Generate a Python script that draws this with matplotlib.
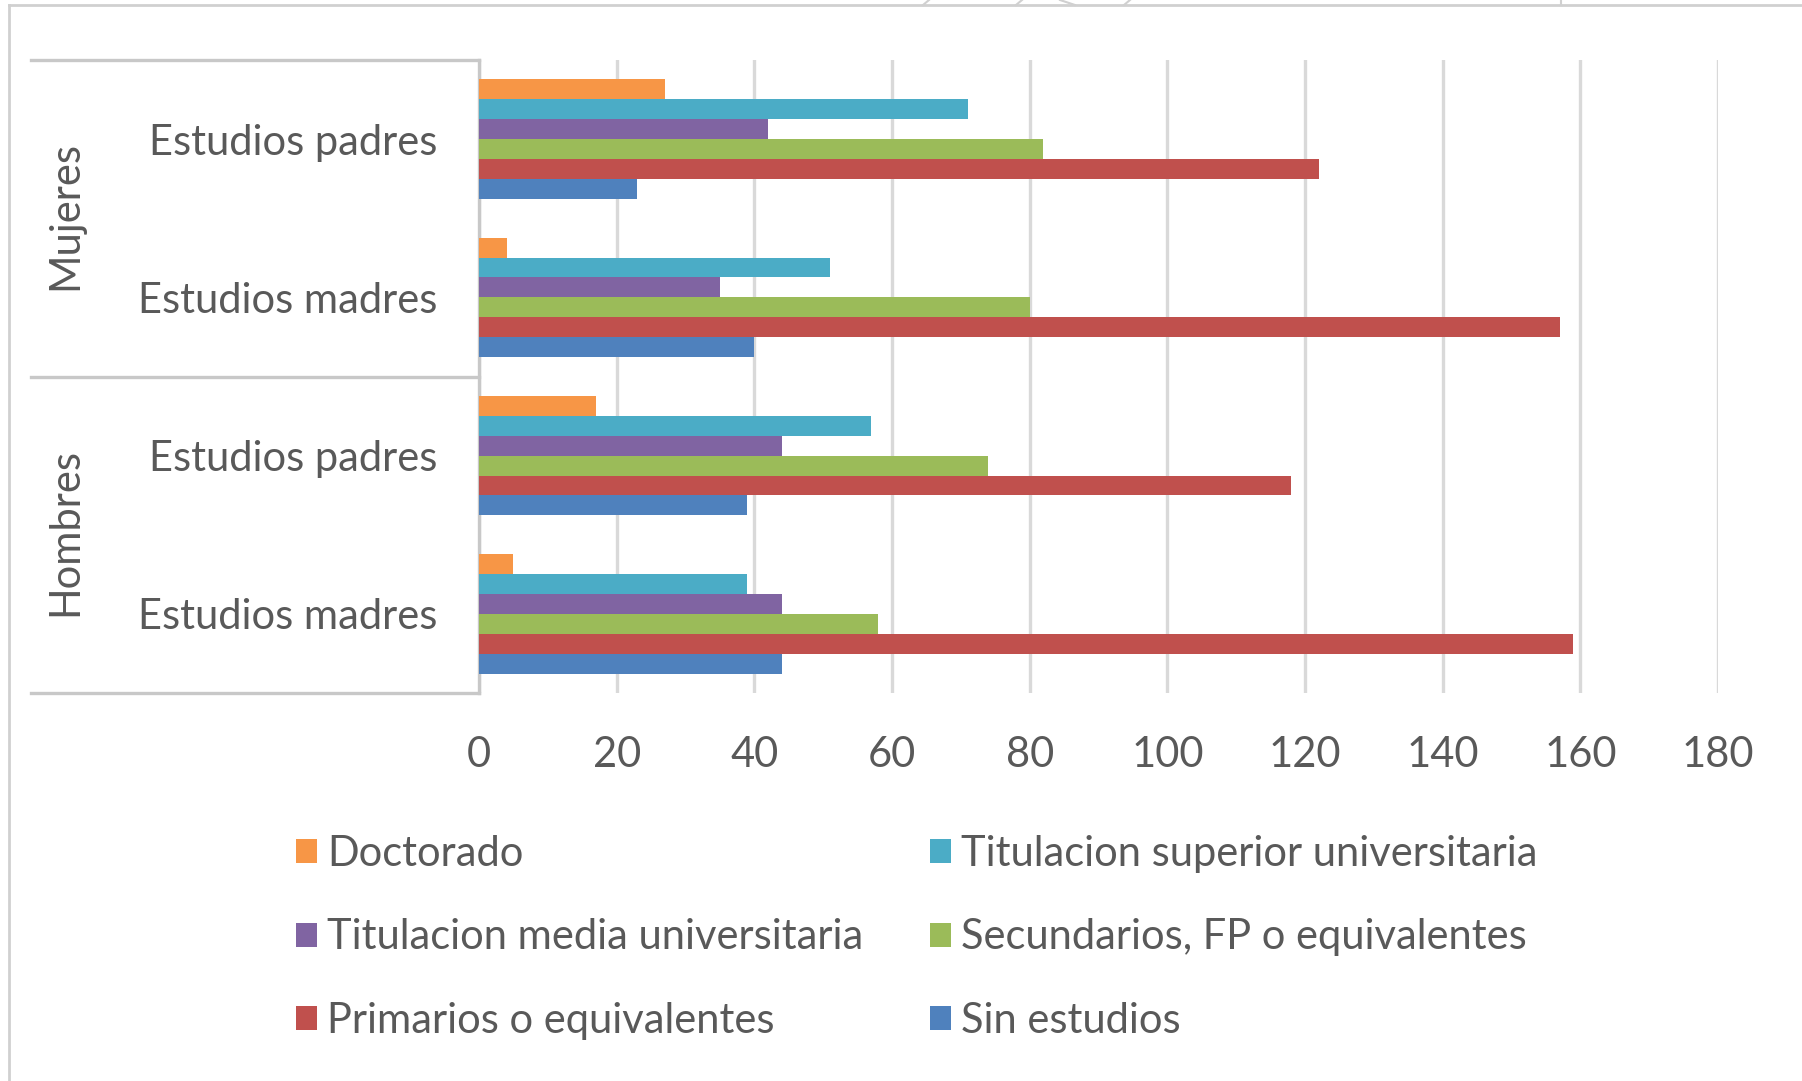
import matplotlib
matplotlib.use("Agg")
import matplotlib.pyplot as plt
import numpy as np
from matplotlib.patches import Patch
from matplotlib.lines import Line2D

plt.rcParams['font.family'] = ['Lato', 'DejaVu Sans']

# Categories, top to bottom
categories = ["Estudios padres", "Estudios madres", "Estudios padres", "Estudios madres"]
groups = ["Mujeres", "Hombres"]

# Series, drawn top to bottom within each category
series_names = [
    "Doctorado",
    "Titulacion superior universitaria",
    "Titulacion media universitaria",
    "Secundarios, FP o equivalentes",
    "Primarios o equivalentes",
    "Sin estudios",
]
doctorado = [27, 4, 17, 5]
tit_superior = [71, 51, 57, 39]
tit_media = [42, 35, 44, 44]
secundarios = [82, 80, 74, 58]
primarios = [122, 157, 118, 159]
sin_estudios = [23, 40, 39, 44]
series_values = [doctorado, tit_superior, tit_media, secundarios, primarios, sin_estudios]
colors = ["#F79646", "#4BACC6", "#8064A2", "#9BBB59", "#C0504D", "#4F81BD"]

x_ticks = list(range(0, 181, 20))

W, H = 1802, 1081
fig = plt.figure(figsize=(W / 100, H / 100), dpi=100)
ax = fig.add_axes([479 / W, 1 - 693 / H, (1718 - 479) / W, (693 - 60) / H])

text_color = "#595959"
grid_color = "#D9D9D9"
box_color = "#C8C8C8"
fs = 30

n_series = len(series_values)
bar_h = 0.755 / n_series
y = np.arange(len(categories))
for i, (vals, col, name) in enumerate(zip(series_values, colors, series_names)):
    offs = (i - (n_series - 1) / 2) * bar_h
    ax.barh(y + offs, vals, height=bar_h, color=col, label=name, zorder=3)

ax.set_xlim(0, 180)
ax.set_ylim(len(categories) - 0.5, -0.5)
ax.set_xticks(x_ticks)
ax.set_xticklabels([str(t) for t in x_ticks], fontsize=fs, color=text_color)
ax.set_yticks(y)
ax.set_yticklabels(categories, fontsize=fs, color=text_color)
ax.tick_params(axis="x", length=0, pad=31)
ax.tick_params(axis="y", length=0, pad=30)
ax.xaxis.grid(True, color=grid_color, linewidth=2.4, zorder=0)
for s in ["top", "right", "bottom"]:
    ax.spines[s].set_visible(False)
ax.spines["left"].set_color(box_color)
ax.spines["left"].set_linewidth(2.4)

# Group label box on the left
box_left = (31 - 479) / (1718 - 479)
for yy in [-0.5, 1.5, 3.5]:
    ax.add_line(Line2D([box_left, 0], [yy, yy], transform=ax.get_yaxis_transform(),
                       color=box_color, linewidth=2.4, clip_on=False))
fig.text(65 / W, 1 - 215 / H, groups[0], rotation=90, ha="center", va="center",
         fontsize=fs, color=text_color)
fig.text(65 / W, 1 - 532 / H, groups[1], rotation=90, ha="center", va="center",
         fontsize=fs, color=text_color)

# Chart outer border (top and left) with small strokes from the frame above
border = "#D0D0D0"
def px_line(xs, ys, lw=2):
    fig.add_artist(Line2D([v / W for v in xs], [1 - v / H for v in ys],
                          transform=fig.transFigure, color=border, linewidth=lw))

px_line([9, 9], [5, H])
px_line([9, W], [5, 5])
px_line([923, 929], [5, 0], 1.5)
px_line([1016, 1022], [5, 0], 1.5)
px_line([1060, 1075], [0, 5], 1.5)
px_line([1124, 1130], [5, 0], 1.5)
px_line([1561, 1561], [0, 5], 1.5)

handles = [Patch(facecolor=c, edgecolor="none") for c in colors]
order = [0, 2, 4, 1, 3, 5]
leg = fig.legend([handles[i] for i in order], [series_names[i] for i in order],
                 ncol=2, loc="upper left", bbox_to_anchor=(296 / W, 1 - 835 / H),
                 frameon=False, fontsize=fs, labelcolor=text_color,
                 handlelength=0.5, handleheight=0.5, handletextpad=0.25,
                 labelspacing=1.09, columnspacing=1.6, borderaxespad=0, borderpad=0)

fig.savefig("out.png", dpi=100, facecolor="white")
